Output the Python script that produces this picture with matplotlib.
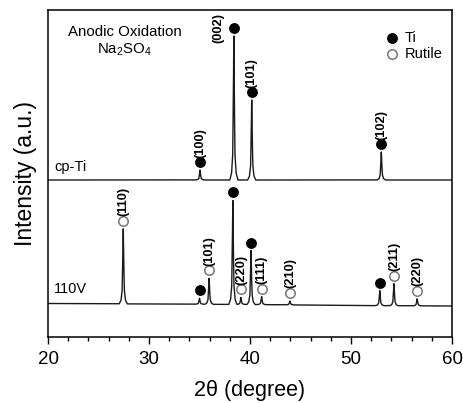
import numpy as np
import matplotlib
matplotlib.use("Agg")
import matplotlib.pyplot as plt

plt.rcParams['font.family'] = ['Liberation Sans', 'DejaVu Sans']
plt.rcParams['mathtext.fontset'] = 'custom'
plt.rcParams['mathtext.rm'] = 'Liberation Sans'
plt.rcParams['mathtext.it'] = 'Liberation Sans:italic'
plt.rcParams['mathtext.bf'] = 'Liberation Sans:bold'

# ---- data (intensities in arbitrary units) ----
# cp-Ti pattern
top_pos = [35.05, 38.40, 40.17, 53.00]
top_hgt = [10, 144, 80, 28]
top_phase = ['Ti', 'Ti', 'Ti', 'Ti']
top_lbl = ['(100)', '(002)', '(101)', '(102)']
top_base = 157

# 110V pattern
bot_pos = [27.45, 35.00, 35.95, 38.30, 39.10, 40.10, 41.15, 43.95, 52.85, 54.25, 56.55]
bot_hgt = [75, 6, 26, 104, 7, 54, 8, 4, 15, 22, 7]
bot_phase = ['R', 'Ti', 'R', 'Ti', 'R', 'Ti', 'R', 'R', 'Ti', 'R', 'R']
bot_lbl = ['(110)', '', '(101)', '', '(220)', '', '(111)', '(210)', '', '(211)', '(220)']
bot_base_x = [20, 30, 40, 50, 60]
bot_base_y = [33.5, 33.0, 32.5, 31.5, 31.0]

xmin, xmax = 20, 60

# peak profile (relative shape)
offs = [-0.40, -0.22, -0.11, -0.05, 0.0, 0.05, 0.11, 0.22, 0.40]
shape = [0.0, 0.05, 0.18, 0.55, 1.0, 0.55, 0.18, 0.05, 0.0]

x = np.linspace(xmin, xmax, 8001)

def pattern(base, pos, hgt):
    y = np.array(base, dtype=float)
    for c, h in zip(pos, hgt):
        y = y + h * np.interp(x - c, offs, shape, left=0, right=0)
    return y

y_top = pattern(np.full_like(x, top_base), top_pos, top_hgt)
y_bot = pattern(np.interp(x, bot_base_x, bot_base_y), bot_pos, bot_hgt)

fig = plt.figure(figsize=(4.63, 4.03), dpi=100)
ax = fig.add_axes([48/463, 66/403, 404/463, 327/403])

ax.plot(x, y_top, color='#1a1a1a', lw=1.0)
ax.plot(x, y_bot, color='#1a1a1a', lw=1.0)

ax.set_xlim(xmin, xmax)
ax.set_ylim(0, 327)

mk_off = 8
lbl_off = 4.5

def draw_marks(pos, hgt, phase, lbls, base_fn):
    for c, h, ph, lb in zip(pos, hgt, phase, lbls):
        yb = base_fn(c)
        ym = yb + h + mk_off
        if ph == 'Ti':
            ax.plot(c, ym, 'o', ms=6.8, color='black', mec='black')
        else:
            ax.plot(c, ym, 'o', ms=6.8, mfc='none', mec='#777777', mew=1.1)
        if lb:
            if lb == '(002)' and ph == 'Ti' and h > 140:
                ax.text(c - 1.5, ym, lb, rotation=90, ha='center', va='center',
                        fontsize=9.3, fontweight='bold')
            else:
                ax.text(c, ym + lbl_off, lb, rotation=90, ha='center', va='bottom',
                        fontsize=9.3, fontweight='bold')

draw_marks(top_pos, top_hgt, top_phase, top_lbl, lambda c: top_base)
draw_marks(bot_pos, bot_hgt, bot_phase, bot_lbl, lambda c: np.interp(c, bot_base_x, bot_base_y))

# legend
ax.plot(54.1, 327 - 28, 'o', ms=6.8, color='black')
ax.text(55.3, 327 - 28, 'Ti', fontsize=10.5, va='center', ha='left')
ax.plot(54.1, 327 - 44, 'o', ms=6.8, mfc='none', mec='#777777', mew=1.1)
ax.text(55.3, 327 - 44, 'Rutile', fontsize=10.5, va='center', ha='left')

# annotations
ax.text(27.6, 327 - 22, 'Anodic Oxidation', fontsize=10.8, ha='center', va='center')
ax.text(27.6, 327 - 40, r'Na$_2$SO$_4$', fontsize=10.8, ha='center', va='center')
ax.text(20.6, top_base + 13, 'cp-Ti', fontsize=10.5, ha='left', va='center')
ax.text(20.6, 327 - (289 - 10), '110V', fontsize=10.5, ha='left', va='center')

ax.set_xticks([20, 30, 40, 50, 60])
ax.set_xticks(np.arange(20, 61, 2), minor=True)
ax.set_yticks([])
ax.tick_params(axis='x', which='major', direction='out', length=5, width=1, labelsize=13.5, pad=5)
ax.tick_params(axis='x', which='minor', direction='out', length=3, width=1)
for sp in ax.spines.values():
    sp.set_linewidth(1.1)

ax.set_xlabel('2θ (degree)', fontsize=15.5, labelpad=9)
ax.set_ylabel('Intensity (a.u.)', fontsize=16.5, labelpad=8)

fig.savefig('out.png', dpi=100)
